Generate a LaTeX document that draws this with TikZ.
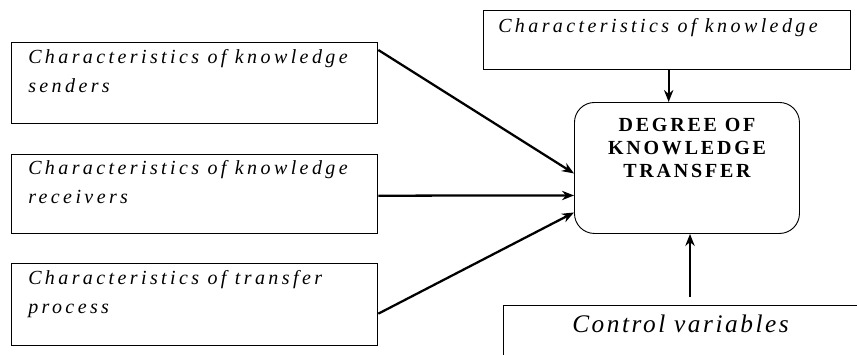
\documentclass[tikz,border=0pt]{standalone}
\usepackage{fontspec}
\setmainfont{Liberation Serif}
\newfontfamily\spacedit[LetterSpace=17]{Liberation Serif Italic}
\newfontfamily\spacedbf[LetterSpace=14]{Liberation Serif Bold}
\newfontfamily\ctrlfont[LetterSpace=10]{Liberation Serif Italic}
\usetikzlibrary{arrows.meta,calc}
\tikzset{
  box/.style={draw, line width=1pt, inner sep=0pt, anchor=north west},
  rbox/.style={draw, line width=0.7pt, rounded corners=15pt, inner sep=0pt, anchor=north west},
  itext/.style={anchor=base west, inner sep=0pt, align=left, font=\spacedit\fontsize{15}{21.75}\selectfont},
  ttext/.style={anchor=base, inner sep=0pt, align=center, font=\spacedbf\fontsize{15}{17}\selectfont},
  arr/.style={line width=1.7pt, -{Stealth[length=9pt,width=7pt]}},
}
\begin{document}
\begin{tikzpicture}[x=0.75pt,y=-0.75pt]
\useasboundingbox (0,0) rectangle (857,354);
\clip (0,0) rectangle (857,354);
% left boxes
\node[box, minimum width=366*0.75pt, minimum height=81*0.75pt] (s1) at (11,42) {};
\node[box, minimum width=366*0.75pt, minimum height=79*0.75pt] (s2) at (11,154) {};
\node[box, minimum width=366*0.75pt, minimum height=82*0.75pt] (s3) at (11,263) {};
\node[itext] (s1t) at (28,92) {Characteristics of knowledge\\senders};
\node[itext] (s2t) at (28,203) {Characteristics of knowledge\\receivers};
\node[itext] (s3t) at (28,313) {Characteristics of transfer\\process};
% top box
\node[box, minimum width=367*0.75pt, minimum height=59*0.75pt] (k) at (483,10) {};
\node[itext] (kt) at (498,32) {Characteristics of knowledge};
% central rounded box
\node[rbox, minimum width=225*0.75pt, minimum height=131*0.75pt] (d) at (574,102) {};
\node[ttext] (dt) at (687,177) {DEGREE OF\\KNOWLEDGE\\TRANSFER};
% control box
\node[box, minimum width=400*0.75pt, minimum height=100*0.75pt] (c) at (503,305) {};
\node[anchor=base west, inner sep=0pt, font=\ctrlfont\fontsize{19}{22}\selectfont] (ct) at (572,332) {Control variables};
% connectors
\coordinate (cs) at (690,297);
\coordinate (ks) at ($(k.south)+(1.5,0)$);
\draw[arr] ($(s1.north east)+(0,8)$) -- ($(d.west)+(0,5.5)$);
\draw[arr] ($(s2.east)+(0,1.5)$) -- ($(d.west)+(0,27.5)$);
\draw[arr] ($(s3.east)+(0,9)$) -- ($(d.west)+(0,44.5)$);
\draw[arr] (ks) -- (ks |- d.north);
\draw[arr] (cs) -- (cs |- d.south);
\end{tikzpicture}
\end{document}
